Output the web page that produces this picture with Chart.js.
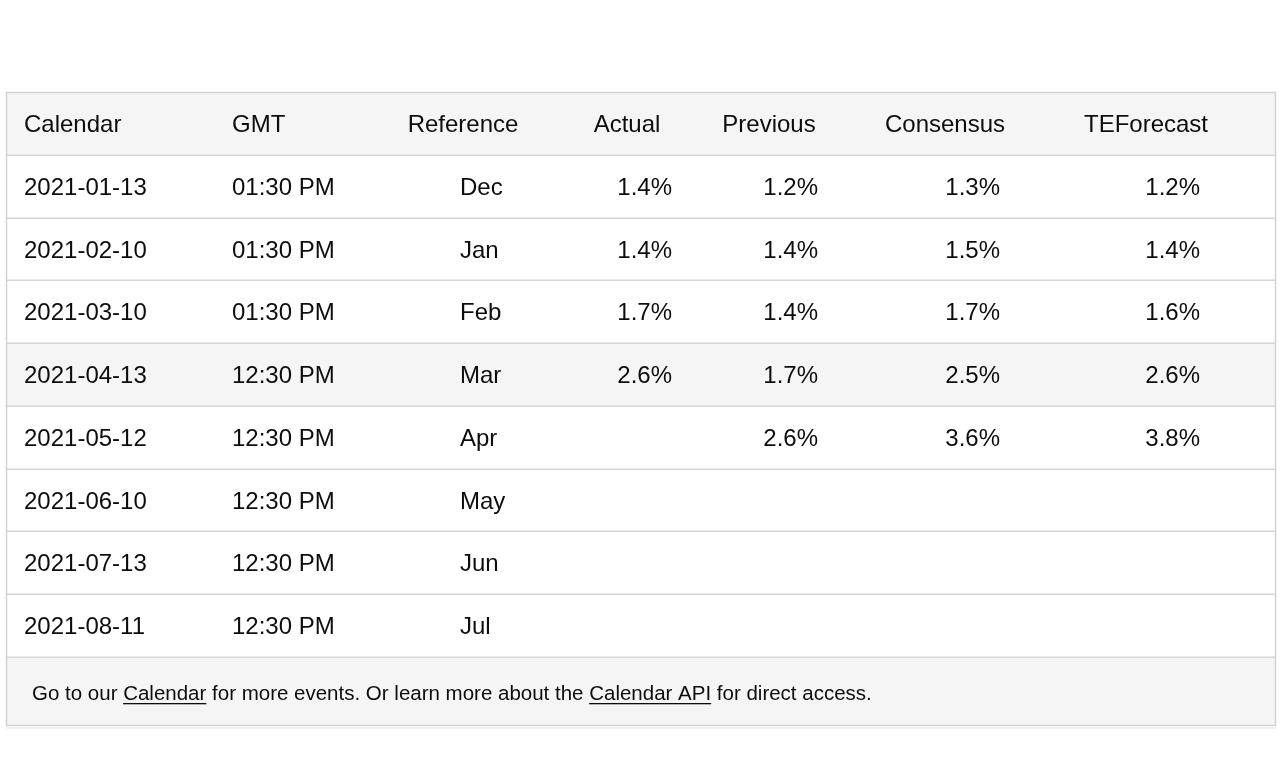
<!DOCTYPE html>
<html><head><meta charset="utf-8">
<script src="https://cdn.jsdelivr.net/npm/chart.js@4.4.1/dist/chart.umd.min.js"></script>
<style>html,body{margin:0;padding:0;background:#fff;overflow:hidden}canvas{display:block}</style>
</head><body>
<canvas id="c" width="1280" height="773"></canvas>
<script>
// ---- data ----
const headers = ['Calendar','GMT','Reference','Actual','Previous','Consensus','TEForecast'];
const calendar = ['2021-01-13','2021-02-10','2021-03-10','2021-04-13','2021-05-12','2021-06-10','2021-07-13','2021-08-11'];
const gmt = ['01:30 PM','01:30 PM','01:30 PM','12:30 PM','12:30 PM','12:30 PM','12:30 PM','12:30 PM'];
const reference = ['Dec','Jan','Feb','Mar','Apr','May','Jun','Jul'];
const actual = ['1.4%','1.4%','1.7%','2.6%',null,null,null,null];
const previous = ['1.2%','1.4%','1.4%','1.7%','2.6%',null,null,null];
const consensus = ['1.3%','1.5%','1.7%','2.5%','3.6%',null,null,null];
const teforecast = ['1.2%','1.4%','1.6%','2.6%','3.8%',null,null,null];
const highlightRow = 3;
const footerParts = [
  {t:'Go to our '},{t:'Calendar',u:true},{t:' for more events. Or learn more about the '},
  {t:'Calendar API',u:true},{t:' for direct access.'}
];
const columns = [calendar, gmt, reference, actual, previous, consensus, teforecast];
const rowLabels = ['header'].concat(calendar);

// ---- layout (table units along x scale) ----
const colLayout = [
  {hx:18,   ha:'left',   vx:18,   va:'left'},
  {hx:226,  ha:'left',   vx:226,  va:'left'},
  {hx:457,  ha:'center', vx:454,  va:'left'},
  {hx:621,  ha:'center', vx:666,  va:'right'},
  {hx:763,  ha:'center', vx:812,  va:'right'},
  {hx:939,  ha:'center', vx:994,  va:'right'},
  {hx:1140, ha:'center', vx:1194, va:'right'}
];
const FONT = '"Liberation Sans", Arial, Helvetica, sans-serif';
const TEXT = '#0d0d0d';
const LINE = '#d6d6d6';
const SHADE = '#f5f5f5';

const tablePlugin = {
  id: 'tableDraw',
  afterDraw(chart) {
    const ctx = chart.ctx;
    const xs = chart.scales.x, ys = chart.scales.y;
    const ca = chart.chartArea;
    const step = ys.getPixelForValue(1) - ys.getPixelForValue(0);
    const footerH = 69;
    ctx.save();
    // backgrounds
    ctx.fillStyle = SHADE;
    const hTop = ys.getPixelForValue(0) - step/2;
    ctx.fillRect(ca.left, hTop, ca.right - ca.left, step);
    const rTop = ys.getPixelForValue(highlightRow + 1) - step/2;
    ctx.fillRect(ca.left, rTop, ca.right - ca.left, step);
    ctx.fillRect(ca.left, ca.bottom, ca.right - ca.left, footerH);
    // shadow below
    ctx.fillStyle = 'rgba(0,0,0,0.05)';
    ctx.fillRect(ca.left, ca.bottom + footerH + 1, ca.right - ca.left, 2);
    // row lines
    ctx.strokeStyle = LINE;
    ctx.lineWidth = 1.5;
    for (let i = 1; i < rowLabels.length; i++) {
      const y = Math.round(ys.getPixelForValue(i) - step/2) + 0.25;
      ctx.beginPath(); ctx.moveTo(ca.left, y); ctx.lineTo(ca.right, y); ctx.stroke();
    }
    const yb = Math.round(ca.bottom) + 0.25;
    ctx.beginPath(); ctx.moveTo(ca.left, yb); ctx.lineTo(ca.right, yb); ctx.stroke();
    // outer border
    ctx.strokeStyle = '#d2d2d2';
    ctx.lineWidth = 1.5;
    ctx.strokeRect(ca.left + 0.5, hTop + 0.5, ca.right - ca.left - 1, ca.bottom + footerH - hTop - 1);
    // header text
    ctx.fillStyle = TEXT;
    ctx.textBaseline = 'middle';
    ctx.font = '24px ' + FONT;
    const hy = ys.getPixelForValue(0) + 2;
    headers.forEach((h, c) => {
      ctx.textAlign = colLayout[c].ha;
      ctx.fillText(h, xs.getPixelForValue(colLayout[c].hx), hy);
    });
    // body text
    columns.forEach((col, c) => {
      ctx.textAlign = colLayout[c].va;
      col.forEach((v, r) => {
        if (v == null) return;
        ctx.fillText(v, xs.getPixelForValue(colLayout[c].vx), ys.getPixelForValue(r + 1) + 2);
      });
    });
    // footer
    ctx.font = '20.5px ' + FONT;
    ctx.textAlign = 'left';
    ctx.textBaseline = 'alphabetic';
    let fx = xs.getPixelForValue(26);
    const fy = ca.bottom + 43;
    footerParts.forEach(p => {
      const w = ctx.measureText(p.t).width;
      ctx.fillText(p.t, fx, fy);
      if (p.u) {
        ctx.fillRect(fx, fy + 3, w, 1.3);
      }
      fx += w;
    });
    ctx.restore();
  }
};

new Chart(document.getElementById('c'), {
  type: 'scatter',
  data: { labels: rowLabels, datasets: [{ data: [] }] },
  options: {
    responsive: false,
    animation: false,
    events: [],
    layout: { padding: { left: 6, right: 4, top: 92, bottom: 116 } },
    plugins: { legend: { display: false }, tooltip: { enabled: false } },
    scales: {
      x: { type: 'linear', min: 0, max: 1270, display: false },
      y: { type: 'category', labels: rowLabels, offset: true, display: false }
    }
  },
  plugins: [tablePlugin]
});
</script>
</body></html>
